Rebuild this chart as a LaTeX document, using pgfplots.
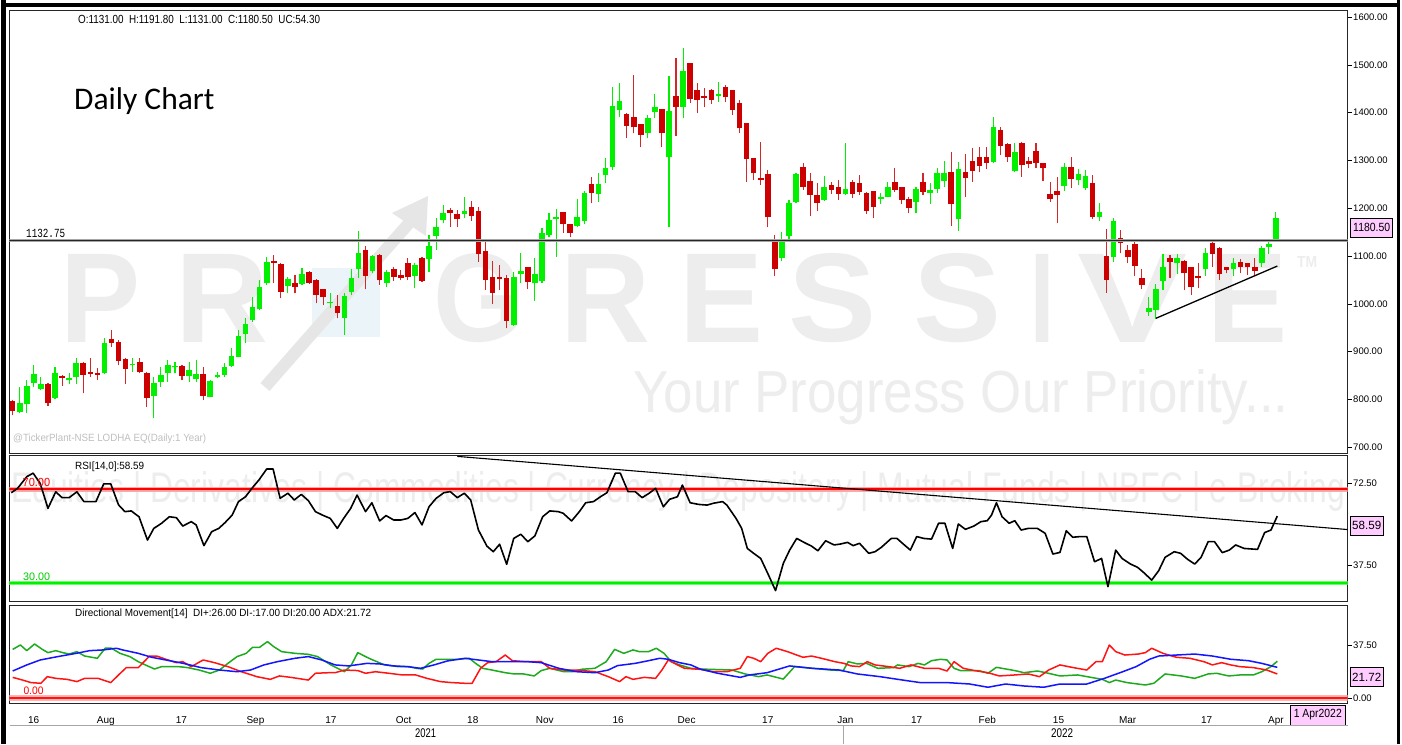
\documentclass[border=0pt]{standalone}
\usepackage{graphicx}
\usepackage{pgfplots}
\pgfplotsset{compat=1.18}
\usepackage{pgfplotstable}
\usepackage{fontspec}
\setmainfont{Liberation Sans}
\newfontfamily\calib{Carlito}
\newfontfamily\lmono{Liberation Mono}
\definecolor{cgreen}{RGB}{0,240,0}
\definecolor{cred}{RGB}{204,0,0}
\definecolor{cwick}{RGB}{212,40,40}
\definecolor{wm}{RGB}{237,237,237}
\definecolor{wmarrow}{RGB}{230,230,230}
\definecolor{wmblue}{RGB}{235,244,248}
\definecolor{pinkbox}{RGB}{255,204,255}
\definecolor{dgreen}{RGB}{30,170,30}
\definecolor{dblue}{RGB}{20,20,255}
\definecolor{dred}{RGB}{255,20,20}
\newcommand{\fitbox}[3]{\resizebox{#1}{#2}{#3}}

\pgfplotstableread{
i o h l c
0 796.0 798.8 767.4 776.5
1 773.0 826.7 770.9 791.8
2 789.7 840.6 770.9 828.8
3 835.0 872.0 826.7 853.2
4 821.8 847.6 819.7 831.5
5 832.2 833.6 786.9 791.8
6 803.0 868.5 800.2 856.0
7 849.0 851.1 828.8 844.8
8 840.6 854.6 832.2 844.1
9 846.2 885.9 832.2 876.9
10 876.9 878.0 812.7 851.1
11 858.0 885.9 847.6 853.2
12 855.3 865.0 840.6 851.1
13 856.0 927.8 853.2 917.3
14 925.7 945.2 910.3 918.7
15 920.1 924.3 872.0 881.1
16 885.2 886.0 832.2 864.3
17 871.3 885.9 858.0 874.1
18 879.0 885.9 854.6 856.7
19 856.0 858.0 784.8 802.3
20 807.8 847.6 760.4 833.6
21 837.1 868.5 826.7 851.1
22 854.6 882.4 837.1 872.0
23 867.1 879.0 854.6 869.9
24 869.9 871.0 840.6 849.0
25 849.0 879.0 837.1 861.5
26 843.4 882.4 837.1 853.2
27 853.2 868.5 798.8 807.8
28 805.7 840.6 804.3 839.2
29 846.2 858.0 844.1 851.1
30 851.1 875.5 847.6 867.1
31 869.9 906.9 868.5 890.8
32 889.4 945.2 889.4 933.4
33 936.8 969.6 917.3 957.8
34 966.1 1015.0 962.7 992.6
35 988.5 1049.8 987.1 1035.9
36 1042.8 1098.6 1039.4 1086.8
37 1090.3 1102.1 1044.2 1086.1
38 1082.6 1085.0 1011.5 1025.4
39 1037.3 1055.4 1021.9 1051.2
40 1044.2 1060.3 1021.9 1034.5
41 1041.5 1074.2 1039.4 1063.1
42 1067.3 1068.0 1041.5 1042.8
43 1049.8 1051.0 1001.0 1018.4
44 1030.3 1031.0 997.5 1013.6
45 1001.0 1021.9 990.5 1004.5
46 995.4 1018.4 969.6 981.5
47 969.6 1021.9 934.8 1016.3
48 1025.4 1072.1 1018.4 1054.7
49 1072.1 1152.3 1053.3 1105.6
50 1112.6 1120.0 1030.3 1058.2
51 1069.3 1102.1 1063.8 1100.0
52 1102.1 1104.0 1039.4 1049.8
53 1044.2 1070.7 1035.9 1067.3
54 1072.1 1077.7 1048.4 1056.8
55 1060.3 1070.7 1049.8 1053.3
56 1086.1 1095.1 1049.8 1055.4
57 1058.2 1084.7 1032.4 1080.5
58 1095.1 1098.6 1046.3 1048.4
59 1093.1 1144.0 1067.3 1121.0
60 1141.9 1178.8 1113.0 1161.4
61 1175.3 1206.7 1168.4 1189.3
62 1196.3 1199.8 1161.4 1189.3
63 1187.2 1196.3 1161.4 1176.7
64 1188.0 1224.2 1178.8 1195.0
65 1201.8 1215.8 1174.0 1183.7
66 1194.9 1201.8 1088.2 1104.2
67 1111.2 1133.0 1029.0 1049.8
68 1056.8 1090.3 999.6 1023.3
69 1056.8 1081.2 1029.0 1051.2
70 1054.7 1060.3 948.7 964.7
71 955.7 1067.3 953.6 1056.8
72 1061.7 1105.6 1044.2 1069.3
73 1076.3 1077.7 1030.3 1044.9
74 1042.8 1095.1 1006.6 1062.4
75 1047.0 1157.9 1044.2 1147.5
76 1144.0 1189.3 1139.1 1175.4
77 1178.0 1197.7 1098.6 1181.0
78 1191.4 1192.0 1148.9 1167.0
79 1167.0 1168.0 1139.1 1148.9
80 1162.8 1218.6 1160.0 1180.9
81 1174.0 1236.7 1167.0 1232.5
82 1250.7 1264.6 1210.2 1232.5
83 1229.7 1273.0 1213.7 1250.7
84 1269.5 1304.4 1253.4 1283.5
85 1286.9 1454.3 1280.0 1414.5
86 1405.5 1461.3 1390.1 1425.0
87 1397.1 1398.5 1346.2 1372.0
88 1390.1 1478.7 1356.7 1369.2
89 1376.2 1377.0 1327.4 1353.2
90 1358.1 1395.0 1346.2 1388.0
91 1401.3 1438.3 1388.0 1411.1
92 1406.9 1408.0 1327.4 1356.7
93 1307.8 1476.6 1160.0 1404.1
94 1435.5 1513.6 1351.1 1412.5
95 1411.1 1535.9 1388.0 1487.1
96 1503.1 1504.0 1420.8 1427.8
97 1447.3 1461.3 1398.5 1426.4
98 1435.5 1450.8 1411.1 1429.9
99 1447.3 1448.7 1418.0 1426.4
100 1434.8 1464.8 1422.9 1438.3
101 1452.9 1457.1 1422.9 1432.0
102 1447.3 1448.0 1395.0 1405.5
103 1419.4 1426.4 1356.7 1367.1
104 1377.6 1378.0 1255.5 1302.3
105 1304.4 1305.0 1259.0 1273.0
106 1263.9 1339.2 1248.6 1259.0
107 1271.6 1280.0 1160.0 1180.9
108 1132.1 1144.0 1058.2 1072.1
109 1095.1 1151.0 1090.0 1134.9
110 1141.9 1217.2 1130.0 1210.2
111 1213.7 1274.4 1210.2 1271.6
112 1285.5 1295.3 1238.1 1243.7
113 1257.6 1273.0 1183.7 1227.7
114 1227.7 1253.4 1194.9 1211.6
115 1217.2 1267.4 1215.8 1245.1
116 1248.6 1255.5 1229.7 1238.1
117 1245.1 1259.0 1217.2 1229.7
118 1229.7 1337.1 1227.7 1239.5
119 1255.5 1259.0 1220.7 1229.7
120 1253.4 1269.5 1227.7 1234.6
121 1232.5 1233.0 1187.9 1194.9
122 1236.7 1237.0 1178.8 1203.2
123 1219.3 1232.5 1208.8 1224.2
124 1224.2 1255.5 1222.8 1245.1
125 1255.5 1283.4 1234.6 1238.1
126 1243.7 1244.0 1208.8 1217.2
127 1218.6 1222.8 1189.3 1199.8
128 1213.7 1245.1 1189.3 1239.5
129 1255.5 1274.4 1227.7 1234.6
130 1232.5 1252.0 1208.8 1238.1
131 1240.2 1283.4 1232.5 1274.4
132 1257.6 1298.8 1243.7 1274.4
133 1276.5 1318.3 1162.8 1208.8
134 1176.7 1297.4 1153.0 1281.3
135 1276.5 1313.4 1222.8 1262.5
136 1298.8 1325.3 1255.5 1278.6
137 1306.5 1328.8 1275.1 1288.3
138 1306.5 1328.8 1281.3 1295.3
139 1297.4 1391.5 1293.9 1369.2
140 1363.6 1369.2 1311.3 1330.1
141 1333.6 1337.1 1297.4 1306.5
142 1278.6 1337.1 1276.5 1318.3
143 1337.1 1338.0 1266.0 1290.4
144 1298.8 1307.8 1283.4 1292.5
145 1320.4 1337.1 1283.4 1295.3
146 1293.9 1295.0 1257.6 1283.4
147 1229.7 1255.5 1213.7 1218.6
148 1236.7 1266.0 1169.8 1227.7
149 1246.5 1293.9 1236.7 1285.5
150 1285.5 1306.5 1241.6 1260.4
151 1259.0 1281.3 1248.6 1271.6
152 1241.6 1279.9 1238.1 1267.4
153 1253.4 1269.5 1176.7 1180.9
154 1182.3 1210.2 1174.0 1192.8
155 1100.0 1155.8 1023.3 1049.8
156 1097.2 1178.8 1088.2 1174.0
157 1137.0 1154.4 1105.6 1126.5
158 1112.6 1123.0 1084.7 1097.2
159 1124.4 1130.0 1058.2 1079.1
160 1054.7 1072.1 1030.3 1039.4
161 983.6 1013.6 974.5 992.0
162 987.1 1041.5 967.5 1030.3
163 1048.4 1104.2 1029.0 1076.3
164 1095.1 1102.1 1053.3 1088.2
165 1084.7 1104.2 1061.7 1095.1
166 1090.3 1091.0 1029.0 1063.8
167 1076.3 1077.0 1018.4 1035.9
168 1058.2 1086.1 1032.4 1053.3
169 1072.1 1116.0 1058.2 1107.0
170 1126.5 1130.0 1077.7 1104.2
171 1116.1 1119.0 1049.8 1061.7
172 1076.3 1077.7 1063.8 1070.7
173 1072.1 1095.1 1058.2 1086.1
174 1088.2 1093.1 1063.8 1076.3
175 1084.7 1085.5 1060.3 1076.3
176 1077.7 1095.1 1058.2 1069.3
177 1084.7 1121.0 1077.7 1116.1
178 1119.0 1130.0 1104.2 1124.4
179 1131.0 1191.8 1131.0 1180.5
}\candles

\pgfplotsset{
  panel/.style={scale only axis, width=1338pt, anchor=south west,
    xmin=-0.45, xmax=189.15, xtick=\empty,
    axis line style={line width=0.9pt, black!85},
    ytick pos=right, yticklabel pos=right,
    tick align=outside, major tick length=4pt,
    every tick/.style={black, line width=0.5pt},
    yticklabel style={font=\fontsize{9.5}{10}\selectfont, inner sep=1.5pt},
    clip=true},
  candlewick/.style={only marks, mark=*, mark size=0pt,
    mark options={draw=none, fill=none}, forget plot,
    restrict y to domain=0:5000,
    error bars/.cd, y dir=plus, y explicit, error mark=none,
    error bar style={line width=1.1pt, draw=#1}},
  candlebody/.style={only marks, mark=*, mark size=0pt,
    mark options={draw=none, fill=none}, forget plot,
    restrict y to domain=0:5000,
    error bars/.cd, y dir=plus, y explicit, error mark=none,
    error bar style={line width=5.6pt, draw=#1}}
}

\begin{document}
\begin{tikzpicture}
\path[use as bounding box, fill=white] (0pt,0pt) rectangle (1402pt,744pt);

% ---------- watermarks ----------
\node[anchor=south west, inner sep=0, text=wm] at (60pt,401pt) {\fitbox{80pt}{88pt}{\bfseries P}};
\node[anchor=south west, inner sep=0, text=wm] at (175pt,401pt) {\fitbox{93pt}{88pt}{\bfseries R}};
\node[anchor=south west, inner sep=0, text=wm] at (433pt,401pt) {\fitbox{90pt}{88pt}{\bfseries G}};
\node[anchor=south west, inner sep=0, text=wm] at (560pt,401pt) {\fitbox{90pt}{88pt}{\bfseries R}};
\node[anchor=south west, inner sep=0, text=wm] at (679pt,401pt) {\fitbox{84pt}{88pt}{\bfseries E}};
\node[anchor=south west, inner sep=0, text=wm] at (788pt,401pt) {\fitbox{88pt}{88pt}{\bfseries S}};
\node[anchor=south west, inner sep=0, text=wm] at (913pt,401pt) {\fitbox{88pt}{88pt}{\bfseries S}};
\node[anchor=south west, inner sep=0, text=wm] at (1030pt,401pt) {\fitbox{24pt}{88pt}{\bfseries I}};
\node[anchor=south west, inner sep=0, text=wm] at (1077pt,401pt) {\fitbox{110pt}{88pt}{\bfseries V}};
\node[anchor=south west, inner sep=0, text=wm] at (1207pt,401pt) {\fitbox{80pt}{88pt}{\bfseries E}};
\node[anchor=south west, inner sep=0, text=wm] at (1297pt,476pt) {\fitbox{20pt}{11pt}{\bfseries TM}};
\fill[wmblue] (312pt,407pt) rectangle (380pt,476pt);
\draw[wmarrow, line width=12pt] (265pt,357pt) -- (410pt,522pt);
\fill[wmarrow] (392pt,531pt) -- (428pt,548pt) -- (426pt,508pt) -- cycle;
\node[anchor=south west, inner sep=0, text=wm] at (633pt,319pt) {\fitbox{655pt}{43pt}{Your Progress Our Priority...}};
\node[anchor=south west, inner sep=0, text=wm] at (11pt,232pt) {\fitbox{1334pt}{31pt}{Equities | Derivatives | Commodities | Currency | Depository | Mutual Funds | NBFC | e-Broking}};

% ---------- price panel ----------
\begin{axis}[panel, at={(9.5pt,290.7pt)}, height=442.8pt,
  ymin=687.3, ymax=1613.6,
  ytick={700,800,900,1000,1100,1200,1300,1400,1500,1600},
  yticklabels={700.00,800.00,900.00,1000.00,1100.00,1200.00,1300.00,1400.00,1500.00,1600.00}]
\addplot[candlewick=cgreen] table[x=i, y expr={\thisrow{l}+100000*(\thisrow{c}<\thisrow{o})}, y error plus expr={\thisrow{h}-\thisrow{l}}] {\candles};
\addplot[candlewick=cwick] table[x=i, y expr={\thisrow{l}+100000*(1-(\thisrow{c}<\thisrow{o}))}, y error plus expr={\thisrow{h}-\thisrow{l}}] {\candles};
\addplot[candlebody=cgreen] table[x=i, y expr={\thisrow{o}+100000*(\thisrow{c}<\thisrow{o})}, y error plus expr={max(\thisrow{c}-\thisrow{o},1.8)}] {\candles};
\addplot[candlebody=cred] table[x=i, y expr={\thisrow{c}+100000*(1-(\thisrow{c}<\thisrow{o}))}, y error plus expr={max(\thisrow{o}-\thisrow{c},1.8)}] {\candles};
\addplot[black!35, line width=2.6pt, mark=none] coordinates {(-1,1132.75) (190,1132.75)};
\addplot[black!85, line width=1.3pt, mark=none] coordinates {(-1,1132.75) (190,1132.75)};
\addplot[black, line width=1.3pt, mark=none] coordinates {(162,969.7) (179.2,1079)};
\end{axis}

% ---------- RSI panel ----------
\begin{axis}[panel, at={(9.5pt,143pt)}, height=146pt,
  ymin=22.15, ymax=84.8,
  ytick={37.5,72.5}, yticklabels={37.50,72.50}]
\addplot[red!35, line width=4.5pt, mark=none] coordinates {(-1,70) (190,70)};
\addplot[red, line width=2pt, mark=none] coordinates {(-1,70) (190,70)};
\addplot[green!60, line width=4pt, mark=none] coordinates {(-1,30) (190,30)};
\addplot[cgreen, line width=2.2pt, mark=none] coordinates {(-1,30) (190,30)};
\addplot[black, line width=1.1pt, mark=none] coordinates {(63,84.2) (189.2,52.8)};
\addplot[black, line width=1.6pt, mark=none, line join=round] coordinates {
(-0.2,68.6) (0.7,70.5) (2,75.5) (2.9,77) (3.9,72.6) (5,61.9) (6.1,69) (7,66.5) (8,66.5) (9.1,69)
(10.1,64.8) (11.8,64.8) (12.9,72.4) (13.9,72.4) (15,63.4) (15.9,60.5) (16.8,60.8) (17.9,58.3)
(19.1,48.3) (20,53.3) (21.1,55.5) (22.2,58.3) (23.2,57.9) (24.1,54.3) (25.3,56.2) (26,54.8)
(27.1,45.9) (28.2,51.9) (29.2,53.3) (30.1,55.8) (31.1,59) (32,64.8) (33,66.9) (33.9,70.5)
(34.9,74.1) (36,78.8) (36.9,78.8) (37.9,66.2) (39,68.4) (39.9,65.5) (40.9,67.9) (41.9,65.2)
(42.9,60.5) (43.9,59) (45,57.6) (46,53.3) (46.9,57.6) (47.9,61.9) (48.8,67.6) (50,60.5)
(50.9,64.3) (52,56.5) (52.9,58.8) (54,56.9) (55,56.9) (56,57.6) (57,60.1) (58,54.8) (59,62.6)
(60,66.2) (61.1,68.6) (62,69.1) (63,66.5) (64,68.4) (64.9,65.5) (66,52.6) (67.2,45.7)
(68.1,43.3) (69,46.5) (70,37.9) (71,49) (72,50.8) (73,47.6) (74,50.1) (75.1,58.3) (76.1,60.8)
(77.3,60.5) (78,59.8) (79.2,56.5) (80.3,60.5) (81.2,64.3) (82.3,64.8) (83.3,66.9) (84.2,68.6)
(85.4,77) (86.1,77) (87.2,69.1) (88.2,69.1) (89.2,66.5) (90.2,68.4) (91.1,70.5) (92.2,62.6)
(93.1,65.8) (94.2,66.9) (94.9,71.9) (96,64.3) (97.2,63.6) (98.4,63.3) (99.3,64.1) (100.6,64.8)
(101.2,63.3) (102.5,57.6) (103.3,53.3) (104.1,44.7) (105,42.6) (106,40.4) (107.1,33.3)
(108.1,26.6) (109.2,38.3) (110.1,44) (111.1,49) (112.2,47.2) (113.2,45.7) (114.1,43.7)
(115.2,48) (116.4,46.2) (117.3,46.6) (118.3,47.3) (119.1,45.9) (120,46.9) (121.3,42.6)
(122.2,43.3) (123.1,45.2) (124.5,49) (125.3,49) (126.2,46.6) (127.2,44) (128.1,49.8) (129.1,49)
(130.2,48.7) (131.2,55.5) (132.1,55.5) (133.2,44.7) (134,55.2) (135,52.9) (136.2,54.3)
(137.2,56.2) (138.1,56.6) (138.7,59) (139.4,64.3) (140.2,58.3) (141.2,55.5) (142,56.6)
(142.9,52.6) (143.9,53.3) (145.2,53.3) (146.3,51.2) (147.4,42.3) (148.4,43) (149.3,52.3)
(150.2,49.5) (151.3,49.8) (152.2,49.8) (153.3,39) (154.3,40.4) (155.2,28.3) (156.3,44)
(157.2,40.4) (158.4,38) (159.4,36.6) (160.4,34) (161.4,31.1) (162.4,35.2) (163.3,40.9)
(164.6,43.3) (165.5,42.6) (166.5,40) (167.5,38) (168.4,40.9) (169.4,47.6) (170.3,47.6)
(171.4,42.9) (172.4,44) (173.3,46.2) (174.5,44.7) (175.4,44.5) (176.4,44.3) (177.4,51.5)
(178.3,52.6) (179.2,58.6)};
\end{axis}

% ---------- DMI panel ----------
\begin{axis}[panel, at={(9.5pt,41pt)}, height=98pt,
  ymin=-3.54, ymax=65.8,
  ytick={0,37.5}, yticklabels={0.00,37.50},
  xtick={2.96,13.2,23.9,34.4,45.1,55.4,65.2,75.4,85.8,95.5,107.0,118.0,128.1,138.1,148.2,158.0,169.2,179.0},
  xticklabels={16,Aug,17,Sep,17,Oct,18,Nov,16,Dec,17,Jan,17,Feb,15,Mar,17,Apr},
  xtick pos=bottom, xtick style={draw=none},
  xticklabel style={font=\fontsize{10}{10}\selectfont, anchor=base, yshift=-16.5pt}]
\addplot[red!30, line width=5.5pt, mark=none] coordinates {(-1,0) (190,0)};
\addplot[dred, line width=2.8pt, mark=none] coordinates {(-1,0) (190,0)};
\addplot[dgreen, line width=1.5pt, mark=none, line join=round] coordinates {
(0,34.4) (1.1,37.5) (2,33.5) (3.1,38.2) (4.2,34.4) (5,32.1) (6.1,33.5) (7.1,32.1) (8,31.1)
(9.1,32.8) (10.2,29.7) (12,28.1) (13.1,35.2) (14,35.2) (15.2,31.6) (16.6,29.3) (17.8,25.7)
(18.8,23.4) (20.1,20.5) (21.1,22.2) (23.5,22.2) (24.8,21.5) (26.4,19.8) (28,17.5) (29.3,19.8)
(30.5,24.5) (31.8,29.3) (33.1,31.6) (34,35.9) (35,35.9) (36.1,39.9) (37,36.3) (38.1,32.8)
(40,31.6) (41.9,30.9) (43.2,29.3) (45.1,23.4) (47,18.6) (48,23.4) (48.9,32.1) (50,29.3)
(50.8,27.4) (52.7,23.4) (54.6,22.2) (56.2,22.2) (57.2,21) (58.1,20.5) (59,24.5) (60,27.4)
(61.6,27.4) (63.2,27.4) (64.7,28.1) (65.6,24.5) (66.6,21) (67.9,19.8) (69.8,17.9) (71.1,17)
(72.4,17) (73.9,15.6) (74.9,19.4) (76.1,21) (78.1,18.6) (79.4,18.6) (80.6,20.3) (82.5,21)
(84.1,25.7) (85.3,34.4) (86.6,31.6) (87.9,34) (88.8,32.8) (90.1,32.8) (91.2,35.2) (92.3,31.6)
(93.3,25.7) (94.5,23.4) (96.1,21) (97.4,20.5) (101.9,19.8) (103.8,17) (105.7,15.1) (106.9,16.3)
(109.2,13.4) (110.8,22.2) (113.3,21) (115.9,19.8) (117.7,19.4) (118.4,25.7) (119.7,24.1)
(121,24.5) (122.6,21) (124.8,21.5) (125.4,23.4) (127,22.2) (128.3,24.5) (129.2,23.4)
(130.2,26.4) (131.5,27.4) (132.4,26.9) (133.4,21) (134.3,19.4) (136.9,19.4) (138.2,17.5)
(139.4,21.7) (142,19.4) (143.3,17.9) (145.2,19.1) (146.4,17.9) (148.4,15.6) (150.9,16.3)
(152.8,14.6) (154.4,13.2) (155.4,10.9) (156.3,12.7) (157.9,10.9) (160.5,9.2) (161.7,10.4)
(163.3,17) (165.6,15.6) (167.5,13.9) (169.4,17) (170.6,17.5) (172.3,15.6) (173.9,16.3)
(175.8,16.3) (177,18.6) (178.3,22.2) (179.2,26)};
\addplot[dred, line width=1.5pt, mark=none, line join=round] coordinates {
(0,14.6) (1.4,12.7) (2.6,10.9) (4,10.4) (4.9,15.1) (6.1,13.9) (7.7,13.2) (9.1,11.6) (10.2,13.9)
(12.1,13.9) (13.9,10.9) (15,16.3) (16.1,21.5) (17.8,21.5) (19.4,29.7) (20.4,29.7) (21.7,27.4)
(23.2,25) (24.1,25.7) (25.3,22.2) (27,26.9) (28.6,25) (30.5,22.2) (32.4,18.6) (34.6,15.1)
(36.5,13.2) (37.8,15.6) (39.4,14.6) (41.9,12.7) (42.9,17.5) (44.8,17.9) (45.7,17.9) (47,19.8)
(48.9,19.4) (50,17.5) (51.4,18.6) (53.3,17.5) (55.2,16.3) (57.1,16.3) (58.7,13.9) (60.6,11.6)
(62.2,10.9) (64.1,10.4) (65.1,10.4) (66.3,21) (67.3,25) (68.5,25.7) (69.8,30.4) (70.8,26.4)
(72.7,25.7) (74.9,25.7) (76.1,21) (78.1,19.8) (79.9,19.8) (82.5,18.6) (84.4,15.1) (86,11.6)
(86.9,15.1) (87.9,13.2) (89.5,14.6) (91.1,13.9) (92,19.8) (92.9,26.9) (94.2,23.4) (95.2,21)
(97.4,20.3) (99.3,18.6) (101.2,18.6) (103.1,21) (104.1,29.3) (105,28.1) (106,25.7) (107,31.6)
(108.2,35.2) (109.8,32.8) (111.1,30.4) (112,28.8) (113.2,29.7) (114.6,28.1) (116.5,25.7)
(117.8,24.5) (118.8,22.7) (120,22.2) (121.1,25.7) (122.2,23.4) (124.1,22.2) (125.7,21)
(127.3,23.4) (129.2,21) (131.2,21) (132.4,19.1) (133.4,25.7) (134.7,21) (136.3,19.4)
(138.2,17.9) (139.8,15.6) (142,16.3) (143.9,17) (145.5,15.1) (146.8,19.8) (148.4,23.4)
(150.3,21.5) (152.2,19.8) (153.5,25.7) (154.4,25.7) (155.4,37.5) (156.3,32.8) (157.6,30.4)
(159.5,31.1) (160.5,32.1) (161.4,35.2) (163,31.6) (164.9,28.8) (166.8,28.1) (168.8,25.7)
(170,23.4) (171.3,25) (172.6,23.4) (173.9,22.2) (175.8,21.5) (177.7,19.8) (179.2,17)};
\addplot[dblue, line width=1.5pt, mark=none, line join=round] coordinates {
(0,19.1) (2,23.4) (3.9,26.9) (6.4,29.3) (9,31.6) (10.9,33.5) (12.8,34) (14.7,35.2) (15.6,34)
(17.8,31.6) (19.7,28.8) (21.7,26.9) (24.2,24.5) (26.7,21.5) (29.3,19.8) (31.8,18.6) (33.7,19.8)
(35.6,23.4) (37.5,25.7) (40,28.1) (41.9,29.3) (43.8,26.9) (45.7,23.4) (47.6,22.7) (50.2,24.5)
(52,24.1) (54,22.7) (55.9,22.2) (57.8,21) (59.7,23.4) (61.6,26.2) (64.1,28.1) (66,26.9)
(67.9,25.7) (70.4,25.7) (73,25.7) (74.9,25) (77.4,21) (79.9,18.6) (82.5,17.9) (84.4,19.8)
(85.7,22.9) (88.2,24.5) (90.1,26.4) (91.7,28.1) (92.9,27.4) (94.5,25) (96.1,23.4) (97.4,20.5)
(99.9,17.5) (103.1,14.6) (104.4,16.3) (106.9,17.9) (110.1,22.7) (113.3,21) (117.1,19.8)
(119.7,17) (122.9,15.1) (126.1,12.7) (128.6,10.9) (132.4,10.9) (135.6,9.9) (138.2,7.6)
(140.7,9.9) (143.3,8.5) (146.1,7.6) (148.4,9.9) (152.2,9.9) (154.7,13.9) (157.3,18.6)
(159.2,22.2) (161.1,27.4) (162.4,29.7) (164.9,30.4) (167.5,31.1) (170,29.7) (172.6,27.4)
(175.1,26.4) (177,24.5) (179.2,21.7)};
\end{axis}

% ---------- texts ----------
\node[anchor=base west, inner sep=0] at (78pt,720.7pt) {\fitbox{242pt}{8.2pt}{O:1131.00\ \ H:1191.80\ \ L:1131.00\ \ C:1180.50\ \ UC:54.30}};
\node[anchor=base west, inner sep=0] at (74pt,634pt) {\calib\fontsize{31.5}{32}\selectfont Daily Chart};
\node[anchor=base west, inner sep=0] at (26pt,506.5pt) {\fitbox{39pt}{8.3pt}{\lmono 1132.75}};
\node[anchor=base west, inner sep=0, text=black!25] at (13pt,302.5pt) {\fitbox{193pt}{7.6pt}{@TickerPlant-NSE LODHA EQ(Daily:1 Year)}};
\node[anchor=base west, inner sep=0] at (75pt,274.5pt) {\fitbox{69pt}{7.6pt}{RSI[14,0]:58.59}};
\node[anchor=base west, inner sep=0, text=red] at (22.5pt,257.5pt) {\fitbox{27.5pt}{8.2pt}{70.00}};
\node[anchor=base west, inner sep=0, text=cgreen!85!black] at (23pt,163pt) {\fitbox{27pt}{7.6pt}{30.00}};
\node[anchor=base west, inner sep=0] at (75pt,127pt) {\fitbox{296pt}{7.6pt}{Directional Movement[14]\ \ DI+:26.00 DI-:17.00 DI:20.00 ADX:21.72}};
\node[anchor=base west, inner sep=0, text=red] at (23.3pt,49pt) {\fitbox{20pt}{7.6pt}{0.00}};
\node[anchor=base, inner sep=0] at (425.5pt,6.7pt) {\fitbox{21pt}{8.8pt}{2021}};
\node[anchor=base, inner sep=0] at (1062pt,6.7pt) {\fitbox{22pt}{8.8pt}{2022}};

% ---------- value boxes ----------
\node[draw=black, line width=0.7pt, fill=pinkbox, minimum width=42pt, minimum height=19pt, inner sep=0] at (1371.7pt,516.2pt) {\fitbox{37pt}{8.3pt}{1180.50}};
\node[draw=black, line width=0.7pt, fill=pinkbox, minimum width=33.3pt, minimum height=19pt, inner sep=0] at (1366.7pt,218.5pt) {\fitbox{29pt}{8.3pt}{58.59}};
\node[draw=black, line width=0.7pt, fill=pinkbox, minimum width=33.3pt, minimum height=19pt, inner sep=0] at (1366.7pt,66.8pt) {\fitbox{29pt}{8.3pt}{21.72}};
\node[draw=black, line width=0.7pt, fill=pinkbox, minimum width=54.3pt, minimum height=20pt, inner sep=0] at (1317.8pt,29pt) {\fitbox{48pt}{8.3pt}{1 Apr2022}};

% ---------- frames and separators ----------
\draw[black!35, line width=1pt] (9.5pt,19pt) -- (1347.5pt,19pt);
\draw[black!35, line width=1pt] (843pt,19pt) -- (843pt,0pt);
\fill[black] (1pt,0pt) rectangle (5.5pt,744pt);
\fill[black] (1pt,736.7pt) rectangle (1400pt,740.7pt);
\fill[black] (1396.5pt,0pt) rectangle (1400pt,744pt);
\end{tikzpicture}
\end{document}
